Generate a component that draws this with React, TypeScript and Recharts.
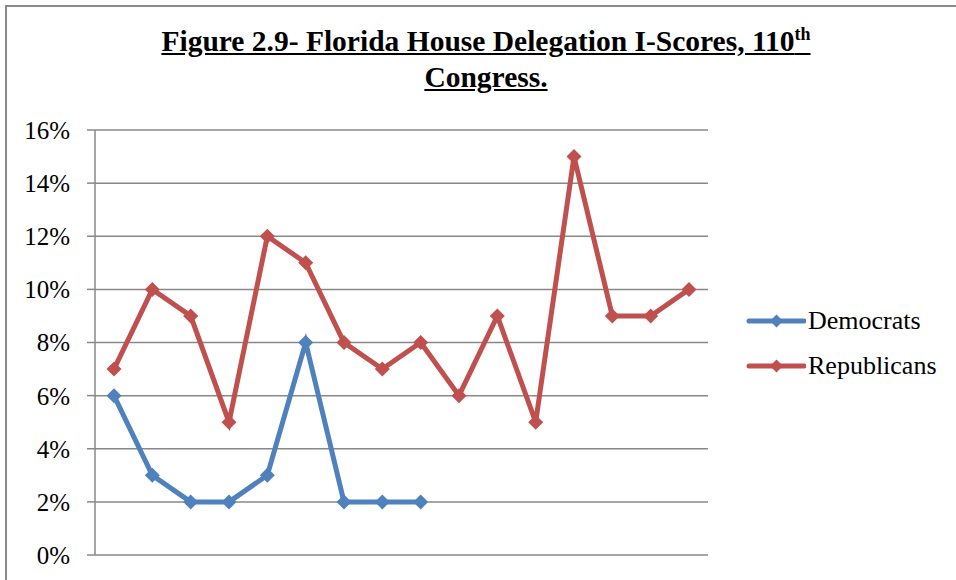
import { LineChart, Line, XAxis, YAxis, CartesianGrid } from "recharts";

const members = [
  "1", "2", "3", "4", "5", "6", "7", "8", "9", "10", "11", "12", "13", "14", "15", "16",
];
const democrats = [6, 3, 2, 2, 3, 8, 2, 2, 2, null, null, null, null, null, null, null];
const republicans = [7, 10, 9, 5, 12, 11, 8, 7, 8, 6, 9, 5, 15, 9, 9, 10];
const yTicks = [0, 2, 4, 6, 8, 10, 12, 14, 16];

const BLUE = "#4F81BD";
const RED = "#C0504D";
const GRID = "#888888";
const SERIF = "'Liberation Serif', 'Times New Roman', serif";

const data = members.map((m, i) => ({
  member: m,
  Democrats: democrats[i],
  Republicans: republicans[i],
}));

const legendItems = [
  { name: "Democrats", color: BLUE },
  { name: "Republicans", color: RED },
];

// excel style diamond marker
const Diamond = (props: any) => {
  const { cx, cy, stroke } = props;
  if (cx == null || cy == null || props.value == null) return null;
  const r = 7.5;
  return (
    <polygon
      points={`${cx},${cy - r} ${cx + r},${cy} ${cx},${cy + r} ${cx - r},${cy}`}
      fill={stroke}
    />
  );
};

export default function App() {
  return (
    <div
      style={{
        position: "absolute",
        left: 0,
        top: 0,
        width: 956,
        height: 580,
        overflow: "hidden",
        background: "#fff",
      }}
    >
      <div
        style={{
          position: "absolute",
          left: 5,
          top: 5,
          width: 980,
          height: 600,
          border: "2px solid #8a8a8a",
        }}
      />
      <div
        style={{
          position: "absolute",
          left: 0,
          top: 23,
          width: 972,
          textAlign: "center",
          fontFamily: SERIF,
          fontWeight: "bold",
          fontSize: 29.5,
          lineHeight: "36px",
          textDecoration: "underline",
          color: "#000",
        }}
      >
        Figure 2.9- Florida House Delegation I-Scores, 110<sup style={{ fontSize: 18, lineHeight: 0 }}>th</sup>
        <br />
        Congress.
      </div>
      <div style={{ position: "absolute", left: 0, top: 0 }}>
        <LineChart
          width={956}
          height={580}
          data={data}
          margin={{ top: 130, right: 248, bottom: 25, left: 0 }}
        >
          <CartesianGrid vertical={false} stroke={GRID} strokeWidth={1.5} />
          <XAxis
            dataKey="member"
            tick={false}
            tickLine={false}
            height={0}
            padding={{ left: 19, right: 19 }}
            axisLine={{ stroke: GRID, strokeWidth: 1.5 }}
          />
          <YAxis
            width={95}
            domain={[0, 16]}
            ticks={yTicks}
            interval={0}
            tickFormatter={(v) => `${v}%`}
            tickSize={8}
            tickMargin={17}
            axisLine={{ stroke: GRID, strokeWidth: 1.5 }}
            tickLine={{ stroke: GRID, strokeWidth: 1.5 }}
            tick={{ fill: "#000", fontFamily: SERIF, fontSize: 25 }}
          />
          <Line
            dataKey="Democrats"
            stroke={BLUE}
            strokeWidth={5}
            dot={<Diamond />}
            activeDot={false}
            connectNulls={false}
            isAnimationActive={false}
          />
          <Line
            dataKey="Republicans"
            stroke={RED}
            strokeWidth={5}
            dot={<Diamond />}
            activeDot={false}
            isAnimationActive={false}
          />
        </LineChart>
      </div>
      <div
        style={{
          position: "absolute",
          left: 746,
          top: 298,
          fontFamily: SERIF,
          fontSize: 26,
          color: "#000",
        }}
      >
        {legendItems.map((s) => (
          <div key={s.name} style={{ display: "flex", alignItems: "center", height: 45 }}>
            <svg width={60} height={16}>
              <line x1={3} y1={8} x2={58} y2={8} stroke={s.color} strokeWidth={5} strokeLinecap="round" />
              <polygon points="30.5,1.5 37,8 30.5,14.5 24,8" fill={s.color} />
            </svg>
            <span style={{ marginLeft: 2 }}>{s.name}</span>
          </div>
        ))}
      </div>
    </div>
  );
}
